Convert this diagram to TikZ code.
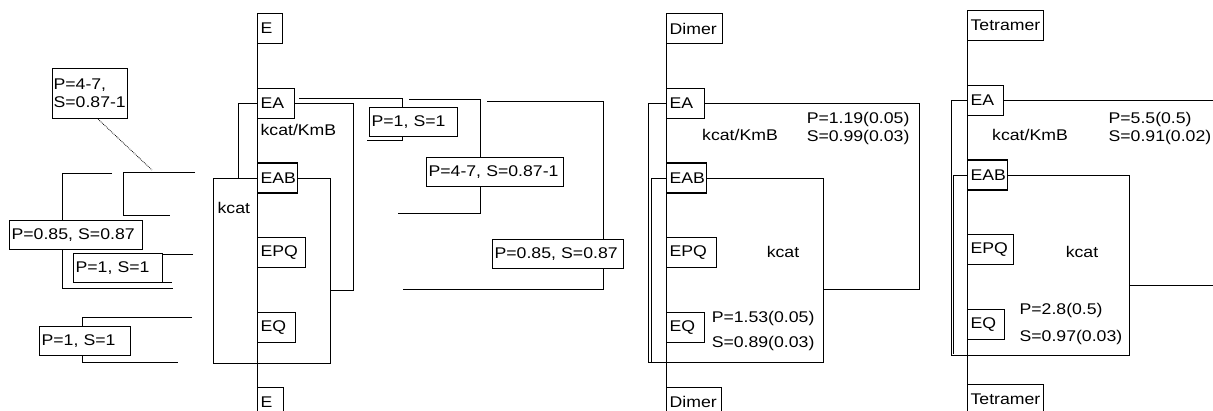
\documentclass[tikz,border=0pt]{standalone}
\usepackage{fontspec}
\setmainfont[FakeStretch=1.14]{Liberation Sans}
\usetikzlibrary{positioning,backgrounds}

\begin{document}
\begin{tikzpicture}[
  x=1pt, y=-1pt,
  font=\fontsize{15.5}{18}\selectfont,
  line width=1.2pt,
  st/.style={draw, fill=white, anchor=north west, minimum height=30pt, inner xsep=3pt, inner ysep=0pt, text width=#1},
  lbl/.style={draw, fill=white, anchor=north west, minimum height=29pt, inner xsep=2pt, inner ysep=0pt, text width=#1},
  tx/.style={inner sep=0pt},
]
\def\gp{43.5pt} % gap between states
\useasboundingbox (0,0) rectangle (1213,410);

%% ============ Scheme 1: E ... E ============
\node[st=19pt] (E1) at (257,13) {E};
\node[st=31pt, below=\gp of E1.south west, anchor=north west] (EA1) {EA};
\node[st=34pt, below=\gp of EA1.south west, anchor=north west] (EAB1) {EAB};
\node[st=42pt, below=\gp of EAB1.south west, anchor=north west] (EPQ1) {EPQ};
\node[st=32pt, below=\gp of EPQ1.south west, anchor=north west] (EQ1) {EQ};
\node[st=20pt, below=\gp of EQ1.south west, anchor=north west] (E1b) {E};
\node[tx, anchor=west] (km1) at (260,130) {kcat/KmB};
\node[tx, anchor=west] (kc1) at (217,208) {kcat};

% labels on the tree fragments
\node[lbl=73pt, inner xsep=1pt, minimum height=50pt] (lb1) at (52,68) {P=4-7,\\S=0.87-1};
\node[lbl=129pt] (lb2) at (9,220) {P=0.85, S=0.87};
\node[lbl=85pt] (lb3) at (73,253) {P=1, S=1};
\node[lbl=87pt] (lb4) at (39,326) {P=1, S=1};
\node[lbl=84pt] (la1) at (369,107) {P=1, S=1};
\node[lbl=133pt] (la2) at (426,157) {P=4-7, S=0.87-1};
\node[lbl=127pt] (la3) at (492,239) {P=0.85, S=0.87};

%% ============ Scheme 2: Dimer ============
\node[st=50pt] (D1) at (666,13) {Dimer};
\node[st=32pt, below=\gp of D1.south west, anchor=north west] (EA2) {EA};
\node[st=34pt, below=\gp of EA2.south west, anchor=north west] (EAB2) {EAB};
\node[st=44pt, below=\gp of EAB2.south west, anchor=north west] (EPQ2) {EPQ};
\node[st=32pt, below=\gp of EPQ2.south west, anchor=north west] (EQ2) {EQ};
\node[st=49pt, below=\gp of EQ2.south west, anchor=north west] (D2) {Dimer};
\node[tx] (km2) at (740,135) {kcat/KmB};
\node[tx, align=right, anchor=east] (ps2a) at (910,128) {P=1.19(0.05)\\S=0.99(0.03)};
\node[tx] (kc2) at (783,252) {kcat};
\node[tx, align=right, anchor=east] (ps2b) at (815,331) {P=1.53(0.05)\\[7pt]S=0.89(0.03)};

%% ============ Scheme 3: Tetramer ============
\node[st=70pt] (T1) at (967,10) {Tetramer};
\node[st=30pt, below=\gp of T1.south west, anchor=north west] (EA3) {EA};
\node[st=34pt, below=\gp of EA3.south west, anchor=north west] (EAB3) {EAB};
\node[st=40pt, below=\gp of EAB3.south west, anchor=north west] (EPQ3) {EPQ};
\node[st=31pt, below=\gp of EPQ3.south west, anchor=north west] (EQ3) {EQ};
\node[st=70pt, below=\gp of EQ3.south west, anchor=north west] (T2) {Tetramer};
\node[tx] (km3) at (1030,135) {kcat/KmB};
\node[tx, align=left, anchor=west] (ps3a) at (1108,128) {P=5.5(0.5)\\S=0.91(0.02)};
\node[tx] (kc3) at (1082,252) {kcat};
\node[tx, align=left, anchor=west] (ps3b) at (1019,324) {P=2.8(0.5)\\[9pt]S=0.97(0.03)};

%% free ends of the tree fragments
\coordinate (ot) at (112,173); \coordinate (ob) at (173,288);
\coordinate (it) at (195,172); \coordinate (ib) at (170,215);
\coordinate (mt) at (193,254); \coordinate (mb) at (172,282);
\coordinate (bt) at (192,317); \coordinate (bb) at (178,362);
\coordinate (dt) at (152,170);
\coordinate (r1b) at (367,140);
\coordinate (r2t) at (409,99); \coordinate (r2b) at (398,213);
\coordinate (r3t) at (487,101); \coordinate (r3b) at (403,289);
\coordinate (j1) at (330,290);
\coordinate (j2) at (823,289);
\coordinate (j3) at (1129,285); \coordinate (j3e) at (1216,285);

%% ============ lines ============
\begin{scope}[on background layer]
  \fill[white] (0,0) rectangle (1213,410);
  % left fragments
  \draw (ot) -- (62,173) |- (ob);
  \draw (it) -- (123,172) |- (ib);
  \draw (mt) -- (100,254) |- (mb);
  \draw (bt) -- (82,317) |- (bb);
  \draw[densely dotted, line width=0.8pt] ([xshift=8pt]lb1.south) -- (dt);
  % scheme 1
  \draw (E1.south west) -- (E1b.north west);
  \draw (EA1.west) -- ++(-19,0) |- (EAB1.west);
  \draw (EAB1.west) -- ++(-44,0) -- ++(0,185) -- ++(117,0) |- (EAB1.east);
  \draw (EA1.east) -| (353,290) -- (j1);
  \draw ([shift={(4,-5)}]EA1.east) -| (402,140) -- (r1b);
  \draw (r2t) -| (480,213) -- (r2b);
  \draw (r3t) -| (603,289) -- (r3b);
  % scheme 2
  \draw (D1.south west) -- (D2.north west);
  \draw (EA2.east) -| (919,289) -- (j2);
  \draw (EA2.west) -- ++(-18,0) -- ++(0,259) -- ++(175,0) |- (EAB2.east);
  \draw (EAB2.west) -| (651,362);
  % scheme 3
  \draw (T1.south west) -- (T2.north west);
  \draw (EA3.east) -- ++(220,0);
  \draw (EA3.west) -- ++(-16,0) -- ++(0,255) -- ++(178,0) |- (EAB3.east);
  \draw (EAB3.west) -| (953,354);
  \draw (j3) -- (j3e);
\end{scope}

\end{tikzpicture}
\end{document}
